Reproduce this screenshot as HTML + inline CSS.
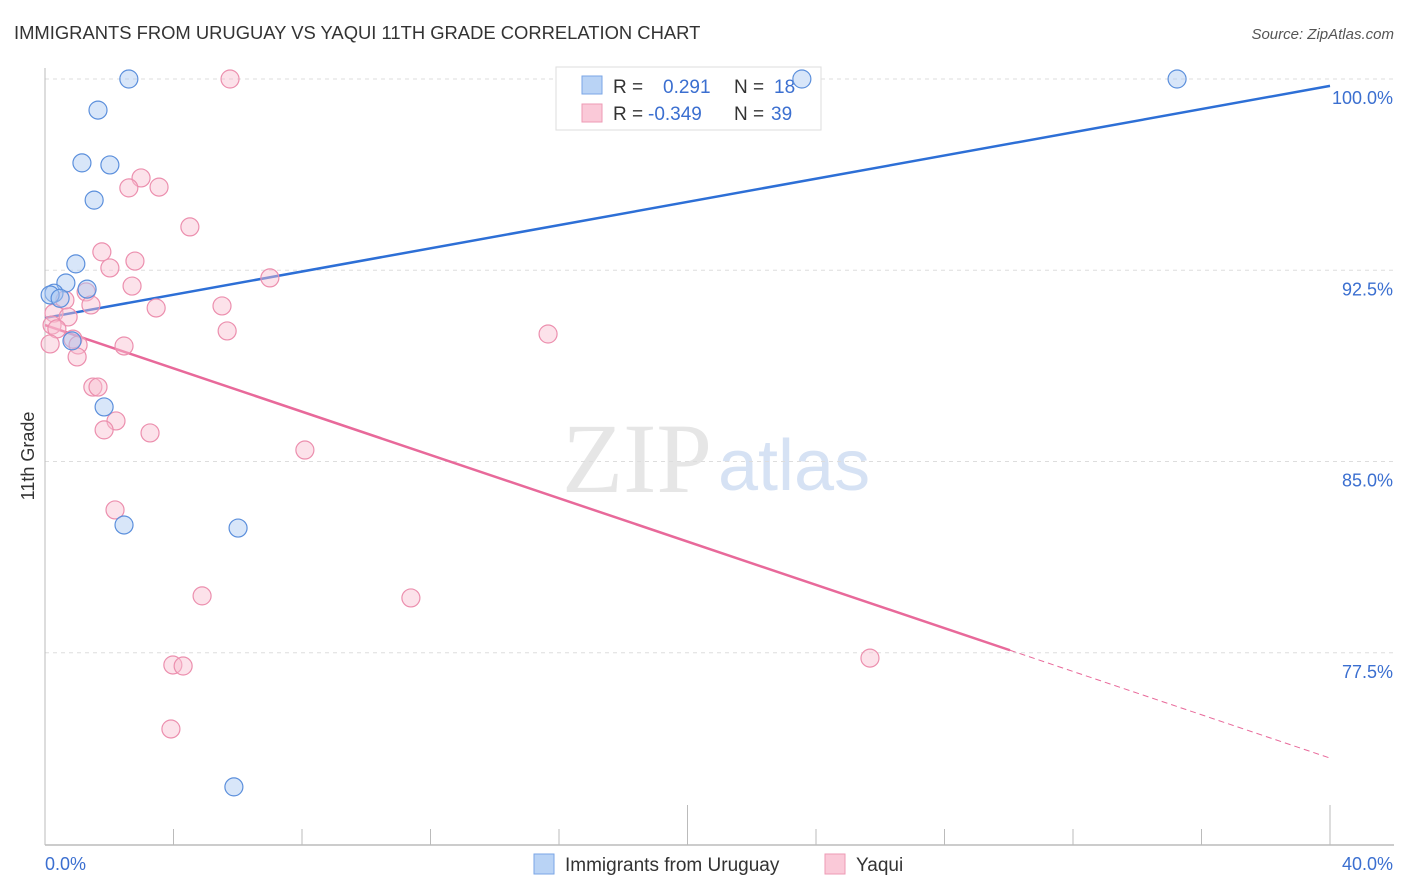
<!DOCTYPE html>
<html><head><meta charset="utf-8"><style>
body{margin:0;background:#fff;font-family:"Liberation Sans",sans-serif}
svg{display:block}
</style></head><body>
<svg id="chart" width="1406" height="892">
<text x="14" y="39" font-size="18.4" fill="#333">IMMIGRANTS FROM URUGUAY VS YAQUI 11TH GRADE CORRELATION CHART</text>
<text x="1394" y="39" font-size="15" fill="#555" font-style="italic" text-anchor="end">Source: ZipAtlas.com</text>
<text x="712" y="492" font-size="100" fill="#e6e6e6" font-family="Liberation Serif,serif" text-anchor="end">ZIP</text>
<text x="718" y="490" font-size="72" fill="#d6e2f4">atlas</text>
<text transform="translate(34,456) rotate(-90)" font-size="18" fill="#333" text-anchor="middle">11th Grade</text>
<g id="grid"></g><g id="axes"></g><g id="lines"></g>
<g>
<rect x="556" y="67" width="265" height="63" fill="#fff" stroke="#ddd"/>
<rect x="582" y="76" width="20" height="18" fill="#b9d3f5" stroke="#7aa6e6"/>
<rect x="582" y="104" width="20" height="18" fill="#fac9d8" stroke="#ee9ab4"/>
<text x="613" y="93" font-size="19" fill="#333">R = <tspan fill="#3b6fd0" x="663">0.291</tspan><tspan x="734" fill="#333">N = </tspan><tspan fill="#3b6fd0" x="774">18</tspan></text>
<text x="613" y="120" font-size="19" fill="#333">R = <tspan fill="#3b6fd0" x="648">-0.349</tspan><tspan x="734" fill="#333">N = </tspan><tspan fill="#3b6fd0" x="771">39</tspan></text>
</g>
<g id="pts"></g>
<g>
<rect x="534" y="854" width="20" height="20" fill="#b9d3f5" stroke="#7aa6e6"/>
<text x="565" y="871" font-size="19" fill="#333">Immigrants from Uruguay</text>
<rect x="825" y="854" width="20" height="20" fill="#fac9d8" stroke="#ee9ab4"/>
<text x="856" y="871" font-size="19" fill="#333">Yaqui</text>
</g>
</svg>
<script>
const uruguayX=[2.61,1.65,1.15,2.02,1.53,0.96,0.65,0.28,0.16,0.47,1.31,0.84,1.84,2.46,6.01,5.88,23.56,35.24];
const uruguayY=[100,98.78,96.71,96.63,95.25,92.75,92.0,91.6,91.53,91.4,91.76,89.73,87.14,82.51,82.39,72.24,100,100];
const yaquiX=[5.76,2.99,2.61,3.55,4.51,1.77,2.80,2.02,7.00,2.71,1.28,0.62,1.43,5.51,3.46,0.28,0.72,5.67,15.66,0.22,0.37,0.16,0.87,1.03,2.46,1.00,1.49,1.65,2.21,1.84,3.27,8.09,2.18,4.89,11.39,3.98,4.30,25.68,3.92];
const yaquiY=[100,96.12,95.73,95.76,94.2,93.22,92.86,92.59,92.2,91.88,91.65,91.33,91.14,91.1,91.02,90.82,90.67,90.12,90.0,90.35,90.2,89.61,89.8,89.57,89.53,89.1,87.92,87.92,86.59,86.24,86.12,85.45,83.1,79.73,79.65,77.02,76.98,77.29,74.51];
const yTicks=[100,92.5,85,77.5];
const yTickLabels=["100.0%","92.5%","85.0%","77.5%"];
const uruguayTrend=[90.63,99.73];
const yaquiTrend=[90.35,73.37];
const yaquiSolidEnd=30.04;
const NS="http://www.w3.org/2000/svg";
const X=v=>45+v*32.125, Y=v=>79+(100-v)*25.5;
function mk(t,a,p){const e=document.createElementNS(NS,t);for(const k in a)e.setAttribute(k,a[k]);p.appendChild(e);return e;}
const grid=document.getElementById('grid'),axes=document.getElementById('axes'),lines=document.getElementById('lines'),pts=document.getElementById('pts');
yTicks.forEach((t,i)=>{
 const l=mk('line',{x1:45,x2:1394,y1:Y(t),y2:Y(t),stroke:'#ddd','stroke-dasharray':'4,4'},grid);
 
 
 const tx=mk('text',{x:1393,y:Y(t)+25,'font-size':18,fill:'#3b6fd0','text-anchor':'end'},axes);
 tx.textContent=yTickLabels[i];
 
 
});
const ya=mk('line',{x1:45,x2:45,y1:68,y2:845,stroke:'#bbb'},axes);


const xa=mk('line',{x1:45,x2:1394,y1:845,y2:845,stroke:'#bbb','stroke-width':1.5},axes);


for(let i=0;i<=10;i++){const v=i*4;const long=(i==5||i==10);
 const t=mk('line',{x1:X(v),x2:X(v),y1:long?805:829,y2:845,stroke:'#bbb'},axes);
 
 }
const x0=mk('text',{x:45,y:870,'font-size':18,fill:'#3b6fd0'},axes);x0.textContent='0.0%';


const x1=mk('text',{x:1393,y:870,'font-size':18,fill:'#3b6fd0','text-anchor':'end'},axes);x1.textContent='40.0%';


function pt(xs,ys,fill,stroke,name){xs.forEach((x,i)=>{const c=mk('circle',{cx:X(x),cy:Y(ys[i]),r:9,fill:fill,'fill-opacity':0.45,stroke:stroke,'stroke-width':1.2},pts);
 
 });}
pt(yaquiX,yaquiY,'#f8bfd0','#ec8fae','yaqui-point');
pt(uruguayX,uruguayY,'#a9c8f1','#5b8fdc','uruguay-point');
const lerp=(a,b,v)=>a+(b-a)*v/40;
const bl=mk('line',{x1:X(0),y1:Y(uruguayTrend[0]),x2:X(40),y2:Y(uruguayTrend[1]),stroke:'#2d6fd6','stroke-width':2.5},lines);


const pl=mk('line',{x1:X(0),y1:Y(yaquiTrend[0]),x2:X(yaquiSolidEnd),y2:Y(lerp(yaquiTrend[0],yaquiTrend[1],yaquiSolidEnd)),stroke:'#e8699a','stroke-width':2.5},lines);


const pd=mk('line',{x1:X(yaquiSolidEnd),y1:Y(lerp(yaquiTrend[0],yaquiTrend[1],yaquiSolidEnd)),x2:X(40),y2:Y(yaquiTrend[1]),stroke:'#e8699a','stroke-width':1,'stroke-dasharray':'6,4'},lines);


</script>
</body></html>
